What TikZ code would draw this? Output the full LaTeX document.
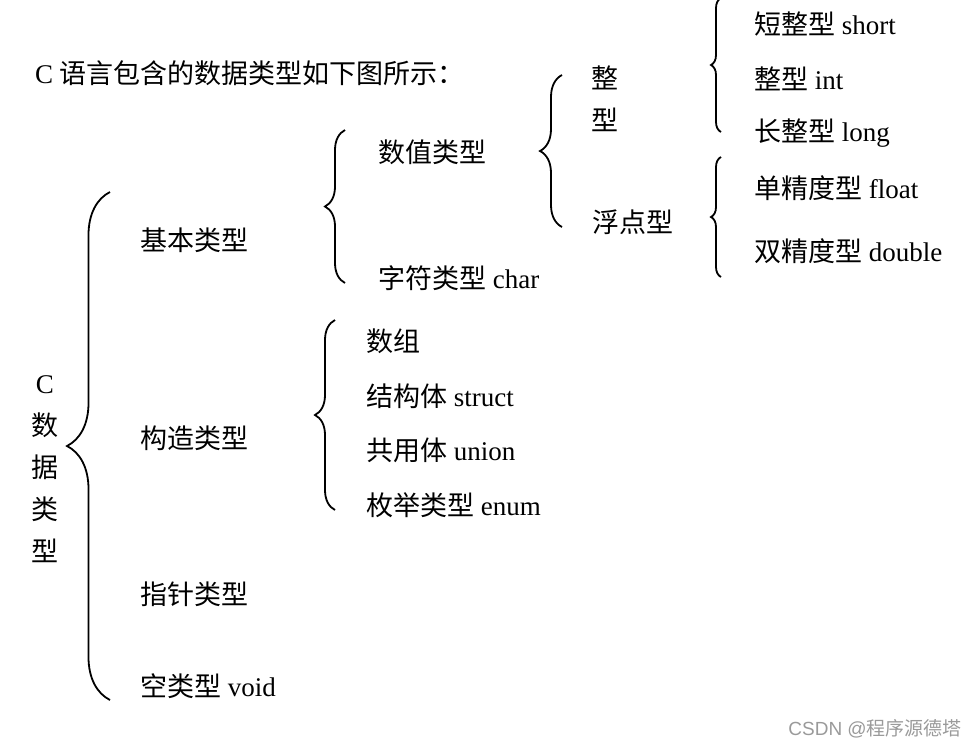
\documentclass[tikz,border=0pt]{standalone}
\usepackage{fontspec}
\setmainfont{Liberation Serif}
\newfontfamily\cjk{Noto Sans CJK SC}
\newfontfamily\wmfont{Liberation Sans}
\usetikzlibrary{decorations.pathreplacing}
\definecolor{watermark}{HTML}{9A9A9A}

\begin{document}
\begin{tikzpicture}[x=1pt, y=-1pt,
    lbl/.style={anchor=west, inner sep=0pt, font=\fontsize{27pt}{32pt}\selectfont},
    brc/.style={decorate, decoration={brace, amplitude=#1}, line width=1.8pt}]
  \useasboundingbox (0,0) rectangle (977,748);

  % Title
  \node[lbl] (title) at (35,73) {C {\cjk 语言包含的数据类型如下图所示：}};

  % Root (vertical)
  \node[lbl, anchor=center, align=center, font=\fontsize{27pt}{42pt}\selectfont]
    (root) at (45,469) {C\\{\cjk 数}\\{\cjk 据}\\{\cjk 类}\\{\cjk 型}};

  % First level
  \node[lbl] (basic) at (140,240) {\cjk 基本类型};
  \node[lbl] (built) at (140,438) {\cjk 构造类型};
  \node[lbl] (pointer) at (140,594) {\cjk 指针类型};
  \node[lbl] (void) at (140,686) {{\cjk 空类型} void};

  % Basic types
  \node[lbl] (numeric) at (378,152) {\cjk 数值类型};
  \node[lbl] (char) at (378,278) {{\cjk 字符类型} char};

  % Built types
  \node[lbl] (array) at (366,341) {\cjk 数组};
  \node[lbl] (struct) at (366,396) {{\cjk 结构体} struct};
  \node[lbl] (union) at (366,450) {{\cjk 共用体} union};
  \node[lbl] (enum) at (366,505) {{\cjk 枚举类型} enum};

  % Numeric types
  \node[lbl, anchor=center, align=center, font=\fontsize{27pt}{42pt}\selectfont]
    (integer) at (605,99) {{\cjk 整}\\{\cjk 型}};
  \node[lbl] (floating) at (592,222) {\cjk 浮点型};

  % Integer and floating types
  \node[lbl] (short) at (754,24) {{\cjk 短整型} short};
  \node[lbl] (int) at (754,79) {{\cjk 整型} int};
  \node[lbl] (long) at (754,133) {{\cjk 长整型} long};
  \node[lbl] (float) at (754,188) {{\cjk 单精度型} float};
  \node[lbl] (double) at (754,251) {{\cjk 双精度型} double};

  % Brace ends
  \coordinate (rootbot) at (110,700);
  \coordinate (roottop) at (110,192);
  \coordinate (basicbot) at (345,283);
  \coordinate (basictop) at (345,130);
  \coordinate (builtbot) at (335,510);
  \coordinate (builttop) at (335,320);
  \coordinate (numbot) at (562,227);
  \coordinate (numtop) at (562,75);
  \coordinate (intbot) at (721,132);
  \coordinate (inttop) at (721,-2);
  \coordinate (floatbot) at (721,277);
  \coordinate (floattop) at (721,157);

  % Braces
  \draw[brc=43] (rootbot) -- (roottop);
  \draw[brc=20] (basicbot) -- (basictop);
  \draw[brc=20] (builtbot) -- (builttop);
  \draw[brc=22] (numbot) -- (numtop);
  \draw[brc=10] (intbot) -- (inttop);
  \draw[brc=10] (floatbot) -- (floattop);

  % Watermark
  \node[anchor=east, inner sep=0pt, text=watermark, font=\wmfont\fontsize{19pt}{22pt}\selectfont]
    (mark) at (962,729) {CSDN @{\cjk 程序源德塔}};
\end{tikzpicture}
\end{document}
